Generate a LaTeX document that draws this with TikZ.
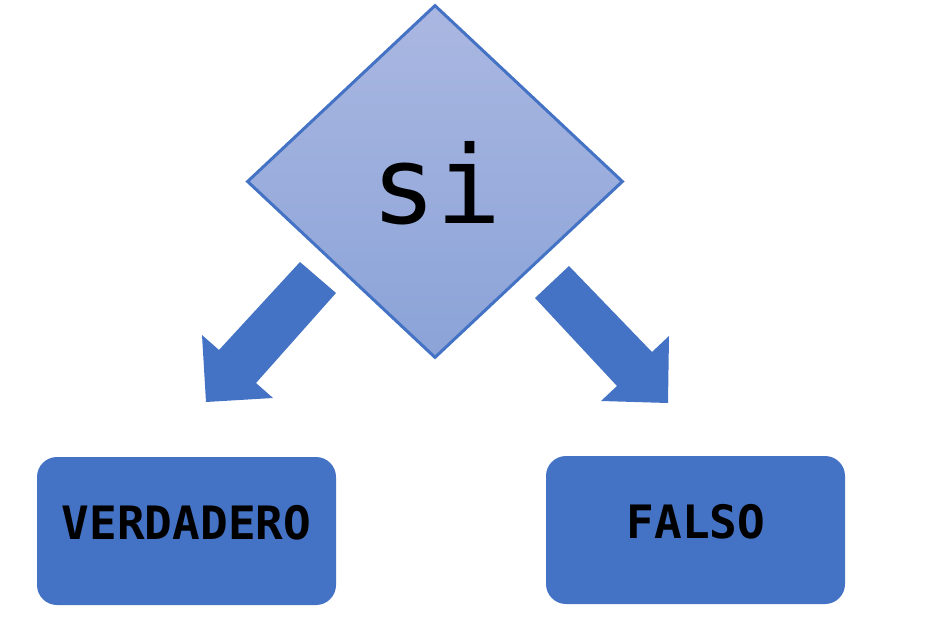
\documentclass[tikz,border=0pt]{standalone}
\usepackage{fontspec}
\setmonofont{DejaVu Sans Mono}
\usetikzlibrary{shapes.geometric}
\definecolor{accent}{HTML}{4472C4}
\definecolor{diamtop}{HTML}{AAB7E1}
\definecolor{diambot}{HTML}{8BA3D8}
\tikzset{
  decision/.style={diamond, draw=accent, line width=3pt, shading=axis, top color=diamtop, bottom color=diambot, inner sep=0pt, minimum width=376pt, minimum height=353pt, aspect=1.065},
  outcome/.style={fill=accent, rounded corners=20pt, minimum width=299pt, minimum height=148pt, inner sep=0pt},
  outlabel/.style={font=\ttfamily\bfseries\fontsize{46}{50}\selectfont, anchor=base, inner sep=0pt, text=black},
  blockarrow/.style={fill=accent, draw=none}
}
\begin{document}
\begin{tikzpicture}[x=1pt,y=-1pt]
\useasboundingbox (0,0) rectangle (943,631);
\node[decision] (dec) at (435,181.5) {};
\node[font=\ttfamily\fontsize{108}{110}\selectfont, anchor=base, inner sep=0pt] (si) at (437,224) {si};
\node[outcome] (yes) at (186.5,531) {};
\node[outcome] (no) at (695.5,530) {};
\node[outlabel] (yeslabel) at (186.5,539) {VERDADERO};
\node[outlabel] (nolabel) at (696,538) {FALSO};
\fill[blockarrow] (300,262) -- (336,293) -- (256,383) -- (273,398) -- (206,402) -- (202,335) -- (219,350) -- cycle;
\fill[blockarrow] (569,266) -- (535,298) -- (617,386) -- (601,401) -- (668,403) -- (669,336) -- (652,352) -- cycle;
\end{tikzpicture}
\end{document}
